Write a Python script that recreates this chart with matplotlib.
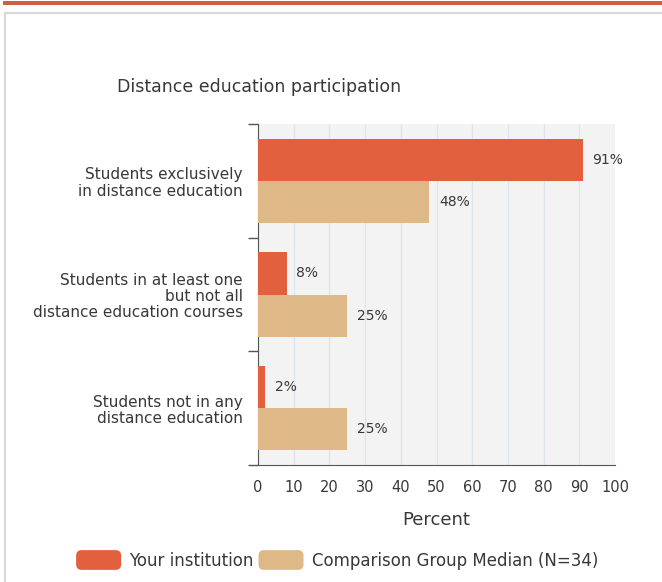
import matplotlib
matplotlib.use('Agg')
import matplotlib.pyplot as plt
from matplotlib.patches import Rectangle, FancyBboxPatch, Patch
from matplotlib.lines import Line2D
from matplotlib.legend_handler import HandlerPatch

# data
categories = ['Students exclusively\nin distance education',
              'Students in at least one\nbut not all\ndistance education courses',
              'Students not in any\ndistance education']
institution = [91, 8, 2]
comparison = [48, 25, 25]
series_names = ['Your institution', 'Comparison Group Median (N=34)']
xticks = [0, 10, 20, 30, 40, 50, 60, 70, 80, 90, 100]

orange = '#e3603e'
tan = '#dfb887'
text_col = '#383838'

plt.rcParams['font.family'] = ['DejaVu Sans']

W, H = 662, 582
fig = plt.figure(figsize=(W / 100, H / 100), dpi=100)

# page decorations: orange stripe and light grey card border
fig.patches.append(Rectangle((3 / W, 1 - 5 / H), 1, 4 / H, transform=fig.transFigure,
                             facecolor='#d0603e', edgecolor='none'))
fig.lines.append(Line2D([5 / W, 1], [1 - 13 / H, 1 - 13 / H], transform=fig.transFigure,
                        color='#d9d9d9', lw=1.6))
fig.lines.append(Line2D([5 / W, 5 / W], [0, 1 - 13 / H], transform=fig.transFigure,
                        color='#d9d9d9', lw=1.6))

ax = fig.add_axes([258 / W, 117 / H, 357 / W, 341 / H])
ax.set_facecolor('#f3f3f3')

y = list(range(len(categories)))
h = 0.37
ax.barh([v - h / 2 for v in y], institution, height=h, color=orange, label=series_names[0], zorder=3)
ax.barh([v + h / 2 for v in y], comparison, height=h, color=tan, label=series_names[1], zorder=3)

for i in y:
    ax.annotate(f'{institution[i]}%', (institution[i], i - h / 2), xytext=(7, 0),
                textcoords='offset points', va='center', ha='left', fontsize=10, color=text_col)
    ax.annotate(f'{comparison[i]}%', (comparison[i], i + h / 2), xytext=(7, 0),
                textcoords='offset points', va='center', ha='left', fontsize=10, color=text_col)

ax.set_xlim(0, 100)
ax.set_ylim(len(categories) - 0.5, -0.5)
ax.set_xticks(xticks)
ax.tick_params(axis='x', length=0, pad=11, labelsize=10.5, labelcolor=text_col)
ax.grid(axis='x', color='#dee5f0', lw=1, zorder=1)

ax.set_yticks(y)
ax.set_yticklabels(categories, fontsize=11, color=text_col, linespacing=1.1)
ax.tick_params(axis='y', which='major', length=0, pad=11)
ax.set_yticks([v - 0.5 for v in range(len(categories) + 1)], minor=True)
ax.tick_params(axis='y', which='minor', length=7.5, color='#555555', width=1)

for s in ['top', 'right']:
    ax.spines[s].set_visible(False)
for s in ['left', 'bottom']:
    ax.spines[s].set_color('#555555')

ax.set_xlabel('Percent', fontsize=13, color=text_col, labelpad=11)
fig.text(117 / W, 1 - 87 / H, 'Distance education participation', fontsize=12.5,
         color=text_col, va='center', ha='left')


class RoundHandler(HandlerPatch):
    def create_artists(self, legend, orig_handle, xdescent, ydescent, width, height, fontsize, trans):
        p = FancyBboxPatch((-xdescent, -ydescent), width, height,
                           boxstyle='round,pad=0,rounding_size=4',
                           facecolor=orig_handle.get_facecolor(), edgecolor='none', transform=trans)
        return [p]


handles = [Patch(facecolor=orange), Patch(facecolor=tan)]
fig.legend(handles, series_names, loc='center', bbox_to_anchor=(337 / W, 22 / H), ncol=2,
           frameon=False, fontsize=12, labelcolor=text_col, handlelength=2.7, handleheight=1.45,
           handletextpad=0.48, columnspacing=0.3,
           handler_map={Patch: RoundHandler()})

fig.savefig('out.png', dpi=100)
